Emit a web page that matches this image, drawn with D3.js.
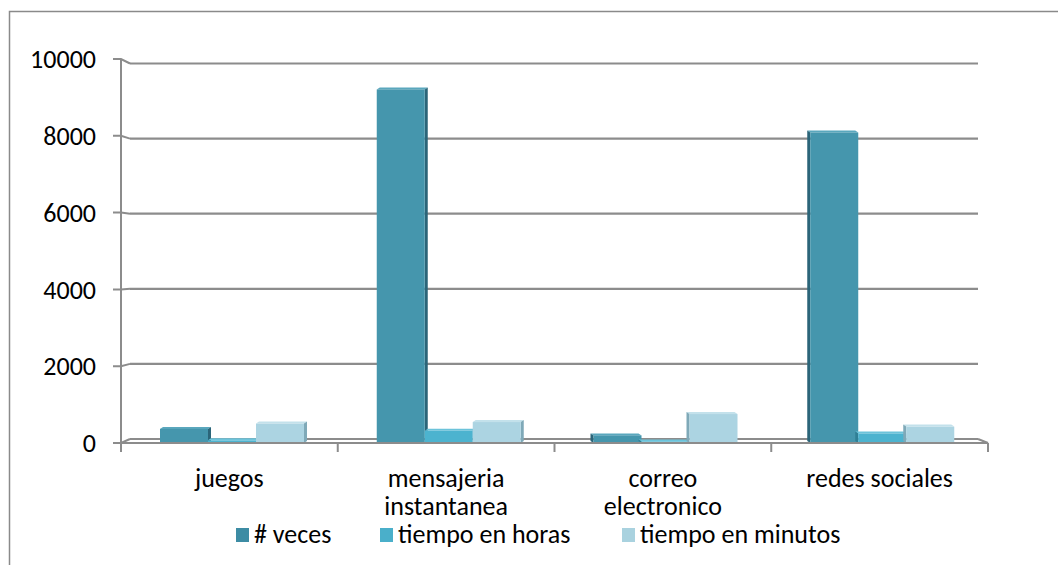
<!DOCTYPE html>
<html>
<head>
<meta charset="utf-8">
<script src="https://cdn.jsdelivr.net/npm/d3@7"></script>
<style>
  html, body { margin: 0; padding: 0; background: #fff; }
  svg { display: block; }
  text { font-family: Carlito, Calibri, "Liberation Sans", Arial, sans-serif; fill: #000; }
</style>
</head>
<body>
<svg id="chart" width="1058" height="565"></svg>
<script>
// --- datos ---
const categorias = [["juegos"], ["mensajeria", "instantanea"], ["correo", "electronico"], ["redes sociales"]];
const series = ["# veces", "tiempo en horas", "tiempo en minutos"];
const veces = [370, 9280, 200, 8150];
const horas = [70, 320, 40, 250];
const minutos = [510, 550, 760, 430];
const ticksY = [0, 2000, 4000, 6000, 8000, 10000];

const valores = [veces, horas, minutos];
const colores = ["#4596ad", "#4cb3cf", "#acd4e2"];
const lados = ["#2b6579", "#2f7f95", "#7fa9b8"];
const topes = ["#5aa7bd", "#6cc3da", "#c3e1eb"];
const leyendaColores = ["#3d8ca4", "#4aafca", "#a9d2df"];

const svg = d3.select("#chart");
const gris = "#8c8c8c";

// marco exterior
svg.append("rect")
  .attr("x", 9.5).attr("y", 11.5).attr("width", 1070).attr("height", 580)
  .attr("fill", "none").attr("stroke", "#8a8a8a").attr("stroke-width", 1.5);

// escalas: frente, fondo y barras (pseudo 3D)
const yFrente = d3.scaleLinear().domain([0, 10000]).range([443, 59]);
const yFondo = d3.scaleLinear().domain([0, 10000]).range([439, 63.5]);
const yBarra = d3.scaleLinear().domain([0, 10000]).range([443, 62]);
const xFrente = [121, 988];
const xFondo = [130, 978];

const cats = categorias.map(c => c.join(" "));
const x0 = d3.scaleBand().domain(cats).range(xFrente);
const x1 = d3.scaleBand().domain(series).range([39, 183]);

// rejilla del fondo
const rejilla = svg.append("g");
ticksY.forEach(t => {
  rejilla.append("line")
    .attr("x1", xFondo[0]).attr("x2", xFondo[1])
    .attr("y1", yFondo(t)).attr("y2", yFondo(t))
    .attr("stroke", gris).attr("stroke-width", 2.2);
  rejilla.append("path")
    .attr("d", `M113,${yFrente(t)}L121,${yFrente(t)}L${xFondo[0]},${yFondo(t)}`)
    .attr("fill", "none").attr("stroke", gris).attr("stroke-width", 2);
});
// suelo, lado derecho
rejilla.append("line")
  .attr("x1", xFondo[1]).attr("y1", yFondo(0)).attr("x2", xFrente[1]).attr("y2", yFrente(0))
  .attr("stroke", gris).attr("stroke-width", 2);

// barras
const centro = (xFrente[0] + xFrente[1]) / 2;
const barras = svg.append("g");
cats.forEach((c, i) => {
  series.forEach((s, k) => {
    const v = valores[k][i];
    const x = x0(c) + x1(s);
    const w = x1.bandwidth();
    const y = yBarra(v);
    const base = yBarra(0);
    const dx = (x + w / 2 < centro) ? 3 : -3;
    // cara superior
    barras.append("path")
      .attr("d", `M${x},${y}L${x + dx},${y - 2}L${x + w + dx},${y - 2}L${x + w},${y}Z`)
      .attr("fill", topes[k]);
    // cara lateral
    const xs = dx > 0 ? x + w : x;
    barras.append("path")
      .attr("d", `M${xs},${y}L${xs + dx},${y - 2}L${xs + dx},${base - 2}L${xs},${base}Z`)
      .attr("fill", lados[k]);
    // cara frontal
    barras.append("rect")
      .attr("x", x).attr("y", y).attr("width", w).attr("height", base - y)
      .attr("fill", colores[k]);
  });
});

// ejes frontales
const ejes = svg.append("g");
ejes.append("line")
  .attr("x1", xFrente[0]).attr("x2", xFrente[0]).attr("y1", yFrente(10000)).attr("y2", 452)
  .attr("stroke", gris).attr("stroke-width", 2);
ejes.append("line")
  .attr("x1", xFrente[0]).attr("x2", xFrente[1]).attr("y1", yFrente(0)).attr("y2", yFrente(0))
  .attr("stroke", gris).attr("stroke-width", 2.2);
cats.forEach(c => {
  const xe = x0(c) + x0.bandwidth();
  ejes.append("line")
    .attr("x1", xe).attr("x2", xe).attr("y1", yFrente(0)).attr("y2", 452)
    .attr("stroke", gris).attr("stroke-width", 2);
});

// etiquetas eje Y
svg.append("g").selectAll("text").data(ticksY).join("text")
  .attr("x", 96).attr("y", d => yFrente(d))
  .attr("dy", "0.35em").attr("text-anchor", "end")
  .style("font-size", "26px")
  .text(d => d);

// etiquetas de categorías
categorias.forEach((lineas, i) => {
  const cx = x0(cats[i]) + x0.bandwidth() / 2;
  const t = svg.append("text")
    .attr("x", cx).attr("y", 487)
    .attr("text-anchor", "middle")
    .style("font-size", "26px");
  lineas.forEach((l, j) => {
    t.append("tspan").attr("x", cx).attr("dy", j === 0 ? 0 : 28).text(l);
  });
});

// leyenda
const leyX = [236, 380, 622];
const ley = svg.append("g");
series.forEach((s, k) => {
  ley.append("rect")
    .attr("x", leyX[k]).attr("y", 528).attr("width", 13).attr("height", 14)
    .attr("fill", leyendaColores[k]);
  ley.append("text")
    .attr("x", leyX[k] + 18).attr("y", 543)
    .style("font-size", "26px")
    .text(s);
});
</script>
</body>
</html>
